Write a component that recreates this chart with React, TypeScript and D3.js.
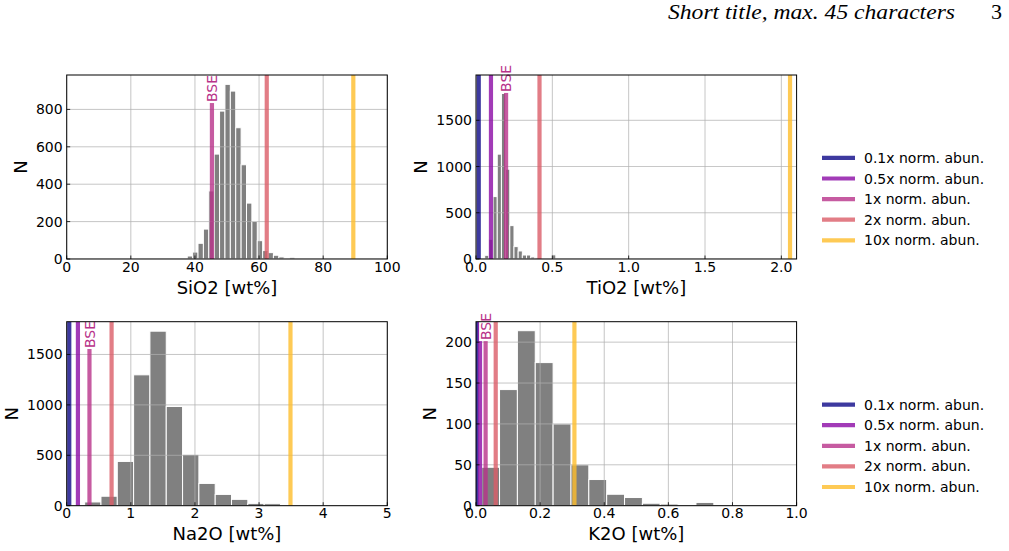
import React, { useRef, useEffect } from 'react';
import * as d3 from 'd3';

// legend entries and their line colours (drawn at 0.8 opacity)
const levelLabels = ['0.1x norm. abun.', '0.5x norm. abun.', '1x norm. abun.', '2x norm. abun.', '10x norm. abun.'];
const levelColors = ['#0d0887', '#8b0aa5', '#b83289', '#db5c68', '#febd2a'];

// SiO2
const sio2Counts = [3, 16, 37, 84, 160, 364, 561, 791, 934, 898, 702, 504, 299, 201, 98, 45, 34, 20, 11, 4, 9];
const sio2BinStart = 35.92;
const sio2BinWidth = 1.68;
const sio2Lines = [null, null, 45.3, 62.4, 89.4];
const sio2XTicks = [0, 20, 40, 60, 80, 100];
const sio2YTicks = [0, 200, 400, 600, 800];

// TiO2
const tio2Counts = [40, 213, 675, 1134, 1790, 971, 361, 134, 87, 43, 43, 22, 14, 8, 0, 0, 45];
const tio2BinStart = 0.057;
const tio2BinWidth = 0.0274;
const tio2Lines = [0.018, 0.098, 0.197, 0.416, 2.057];
const tio2XTicks = [0, 0.5, 1.0, 1.5, 2.0];
const tio2YTicks = [0, 500, 1000, 1500];

// Na2O
const na2oCounts = [37, 94, 439, 1298, 1731, 984, 509, 221, 112, 63, 23, 20];
const na2oBinStart = 0.28;
const na2oBinWidth = 0.2545;
const na2oLines = [0.04, 0.175, 0.355, 0.70, 3.49];
const na2oXTicks = [0, 1, 2, 3, 4, 5];
const na2oYTicks = [0, 500, 1000, 1500];

// K2O
const k2oCounts = [47, 142, 214, 175, 100, 50, 32, 14, 10, 3, 2, 0, 4];
const k2oBinStart = 0.0177;
const k2oBinWidth = 0.0557;
const k2oLines = [0.0015, 0.0125, 0.03, 0.0615, 0.307];
const k2oXTicks = [0, 0.2, 0.4, 0.6, 0.8, 1.0];
const k2oYTicks = [0, 50, 100, 150, 200];

const FONT = 'DejaVu Sans, sans-serif';

interface Panel {
    id: string;
    label: string;
    counts: number[];
    binStart: number;
    binWidth: number;
    lines: (number | null)[];
    xDomain: [number, number];
    yMax: number;
    xTicks: number[];
    yTicks: number[];
    xFmt: string;
    left: number;
    top: number;
    bseFrac: number;
    legend: boolean;
}

const W = 320.6;
const H = 184;

const panels: Panel[] = [
    { id: 'p1', label: 'SiO2 [wt%]', counts: sio2Counts, binStart: sio2BinStart, binWidth: sio2BinWidth, lines: sio2Lines,
      xDomain: [0, 100], yMax: 984, xTicks: sio2XTicks, yTicks: sio2YTicks, xFmt: 'd', left: 66.7, top: 75, bseFrac: 0.147, legend: false },
    { id: 'p2', label: 'TiO2 [wt%]', counts: tio2Counts, binStart: tio2BinStart, binWidth: tio2BinWidth, lines: tio2Lines,
      xDomain: [0, 2.1], yMax: 1990, xTicks: tio2XTicks, yTicks: tio2YTicks, xFmt: '.1f', left: 476, top: 75, bseFrac: 0.092, legend: true },
    { id: 'p3', label: 'Na2O [wt%]', counts: na2oCounts, binStart: na2oBinStart, binWidth: na2oBinWidth, lines: na2oLines,
      xDomain: [0, 5], yMax: 1825, xTicks: na2oXTicks, yTicks: na2oYTicks, xFmt: 'd', left: 66.7, top: 321.7, bseFrac: 0.143, legend: false },
    { id: 'p4', label: 'K2O [wt%]', counts: k2oCounts, binStart: k2oBinStart, binWidth: k2oBinWidth, lines: k2oLines,
      xDomain: [0, 1], yMax: 225, xTicks: k2oXTicks, yTicks: k2oYTicks, xFmt: '.1f', left: 476, top: 321.7, bseFrac: 0.1, legend: true },
];

const App: React.FC = () => {
    const svgRef = useRef<SVGSVGElement | null>(null);

    useEffect(() => {
        const svg = d3.select(svgRef.current);
        svg.selectAll('*').remove();
        const defs = svg.append('defs');

        // running header
        svg.append('text')
            .attr('x', 955).attr('y', 18.5)
            .attr('text-anchor', 'end')
            .attr('textLength', 287)
            .attr('lengthAdjust', 'spacingAndGlyphs')
            .style('font-family', 'Liberation Serif, serif')
            .style('font-style', 'italic')
            .style('font-size', '22px')
            .text('Short title, max. 45 characters');
        svg.append('text')
            .attr('x', 1002).attr('y', 18.5)
            .attr('text-anchor', 'end')
            .style('font-family', 'Liberation Serif, serif')
            .style('font-size', '22px')
            .text('3');

        panels.forEach(p => {
            const x = d3.scaleLinear().domain(p.xDomain).range([0, W]);
            const y = d3.scaleLinear().domain([0, p.yMax]).range([H, 0]);
            const xFmt = d3.format(p.xFmt);
            const yFmt = d3.format('d');

            defs.append('clipPath').attr('id', `clip-${p.id}`)
                .append('rect').attr('width', W).attr('height', H);

            const g = svg.append('g').attr('transform', `translate(${p.left},${p.top})`);
            const plot = g.append('g').attr('clip-path', `url(#clip-${p.id})`);

            // histogram bars
            plot.selectAll('.bar')
                .data(p.counts)
                .enter()
                .append('rect')
                .attr('class', 'bar')
                .attr('x', (d, i) => x(p.binStart + i * p.binWidth))
                .attr('y', d => y(d))
                .attr('width', x(p.binWidth) - x(0))
                .attr('height', d => H - y(d))
                .attr('fill', '#808080')
                .attr('stroke', 'white')
                .attr('stroke-width', 1)
                .style('display', d => (d > 0 ? null : 'none'));

            // grid
            plot.selectAll('.gx').data(p.xTicks).enter().append('line')
                .attr('x1', d => x(d)).attr('x2', d => x(d))
                .attr('y1', 0).attr('y2', H)
                .attr('stroke', '#b0b0b0').attr('stroke-width', 0.9).attr('opacity', 0.8);
            plot.selectAll('.gy').data(p.yTicks).enter().append('line')
                .attr('y1', d => y(d)).attr('y2', d => y(d))
                .attr('x1', 0).attr('x2', W)
                .attr('stroke', '#b0b0b0').attr('stroke-width', 0.9).attr('opacity', 0.8);

            // abundance lines
            const lineData = p.lines
                .map((v, i) => ({ v, c: levelColors[i] }))
                .filter(d => d.v !== null) as { v: number; c: string }[];
            plot.selectAll('.vl').data(lineData).enter().append('line')
                .attr('x1', d => x(d.v)).attr('x2', d => x(d.v))
                .attr('y1', 0).attr('y2', H)
                .attr('stroke', d => d.c)
                .attr('stroke-width', 4.2)
                .attr('stroke-opacity', 0.8);

            // BSE label at the 1x line
            const bx = x(p.lines[2] as number);
            const by = H * p.bseFrac;
            const bse = g.append('g').attr('transform', `translate(${bx},${by}) rotate(-90)`);
            bse.append('rect')
                .attr('x', -1).attr('y', -6.5)
                .attr('width', 28.5).attr('height', 13)
                .attr('fill', 'white');
            bse.append('text')
                .attr('x', 0).attr('y', 0)
                .attr('dy', '0.36em')
                .attr('fill', '#b83289')
                .style('font-family', FONT)
                .style('font-size', '14px')
                .text('BSE');

            // frame
            g.append('rect')
                .attr('width', W).attr('height', H)
                .attr('fill', 'none').attr('stroke', 'black').attr('stroke-width', 1);

            // inward ticks
            g.selectAll('.tx').data(p.xTicks).enter().append('line')
                .attr('x1', d => x(d)).attr('x2', d => x(d))
                .attr('y1', H).attr('y2', H - 3.5)
                .attr('stroke', 'black').attr('stroke-width', 0.8);
            g.selectAll('.ty').data(p.yTicks).enter().append('line')
                .attr('y1', d => y(d)).attr('y2', d => y(d))
                .attr('x1', 0).attr('x2', 3.5)
                .attr('stroke', 'black').attr('stroke-width', 0.8);

            // tick labels
            g.selectAll('.lx').data(p.xTicks).enter().append('text')
                .attr('x', d => x(d)).attr('y', H + 12.7)
                .attr('text-anchor', 'middle')
                .style('font-family', FONT).style('font-size', '14px')
                .text(d => xFmt(d));
            g.selectAll('.ly').data(p.yTicks).enter().append('text')
                .attr('x', -4).attr('y', d => y(d))
                .attr('dy', '0.36em')
                .attr('text-anchor', 'end')
                .style('font-family', FONT).style('font-size', '14px')
                .text(d => yFmt(d));

            // axis labels
            g.append('text')
                .attr('x', W / 2).attr('y', H + 34.5)
                .attr('text-anchor', 'middle')
                .style('font-family', FONT).style('font-size', '18px')
                .text(p.label);
            const maxDigits = d3.max(p.yTicks, d => yFmt(d).length) || 3;
            const nx = -4 - maxDigits * 8.9 - 9;
            g.append('text')
                .attr('transform', `translate(${nx},${H / 2}) rotate(-90)`)
                .attr('text-anchor', 'middle')
                .style('font-family', FONT).style('font-size', '18px')
                .text('N');

            // legend
            if (p.legend) {
                const lg = svg.append('g').attr('transform', `translate(822,${p.top + 82.9})`);
                levelLabels.forEach((t, i) => {
                    const row = lg.append('g').attr('transform', `translate(0,${i * 20.6})`);
                    row.append('line')
                        .attr('x1', 0).attr('x2', 33)
                        .attr('stroke', levelColors[i])
                        .attr('stroke-width', 4.2)
                        .attr('stroke-opacity', 0.8);
                    row.append('text')
                        .attr('x', 42).attr('dy', '0.36em')
                        .style('font-family', FONT).style('font-size', '14px')
                        .text(t);
                });
            }
        });
    }, []);

    return (
        <svg
            ref={svgRef}
            width={1009}
            height={551}
            style={{ position: 'absolute', left: 0, top: 0, background: 'white' }}
        />
    );
};

export default App;
